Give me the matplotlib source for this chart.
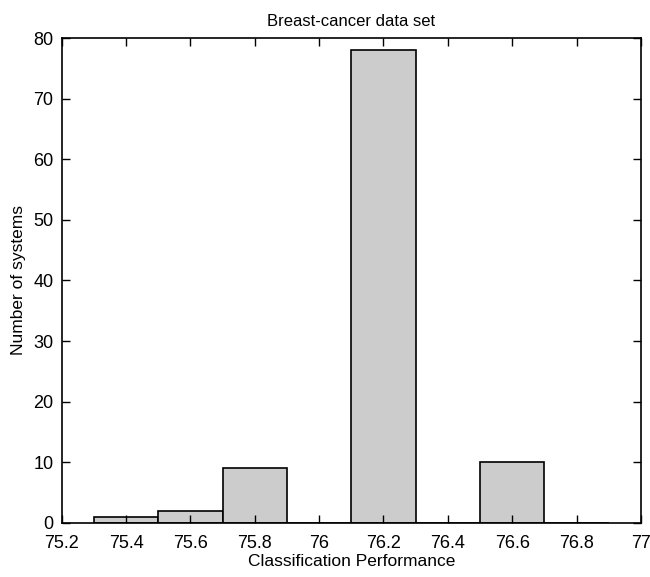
import numpy as np
import matplotlib
matplotlib.use("Agg")
import matplotlib.pyplot as plt

plt.rcParams['font.family'] = ['Liberation Sans', 'DejaVu Sans']

# datos
bordes_izq = [75.3, 75.5, 75.7, 75.9, 76.1, 76.3, 76.5, 76.7]
alturas = [1, 2, 9, 0, 78, 0, 10, 0]
ancho = 0.2
xticks = [75.2, 75.4, 75.6, 75.8, 76.0, 76.2, 76.4, 76.6, 76.8, 77.0]
xtick_labels = ['75.2', '75.4', '75.6', '75.8', '76', '76.2', '76.4', '76.6', '76.8', '77']
yticks = [0, 10, 20, 30, 40, 50, 60, 70, 80]

fig = plt.figure(figsize=(6.5, 5.77), dpi=100)
ax = fig.add_axes([0.095, 0.094, 0.891, 0.840])

ax.bar(bordes_izq, alturas, width=ancho, align='edge', color='#cccccc',
       edgecolor='black', linewidth=1.2)

ax.set_xlim(75.2, 77.0)
ax.set_ylim(0, 80)
ax.set_xticks(xticks)
ax.set_xticklabels(xtick_labels)
ax.set_yticks(yticks)
ax.tick_params(direction='in', top=True, right=True, labelsize=13, length=6, width=1)
ax.tick_params(axis='x', pad=9)
ax.tick_params(axis='y', pad=6)
for s in ax.spines.values():
    s.set_linewidth(1.2)

ax.set_title('Breast-cancer data set', fontsize=12, pad=9)
ax.set_xlabel('Classification Performance', fontsize=12.5, labelpad=1)
ax.set_ylabel('Number of systems', fontsize=12.5, labelpad=5)

fig.savefig('out.png', dpi=100)
